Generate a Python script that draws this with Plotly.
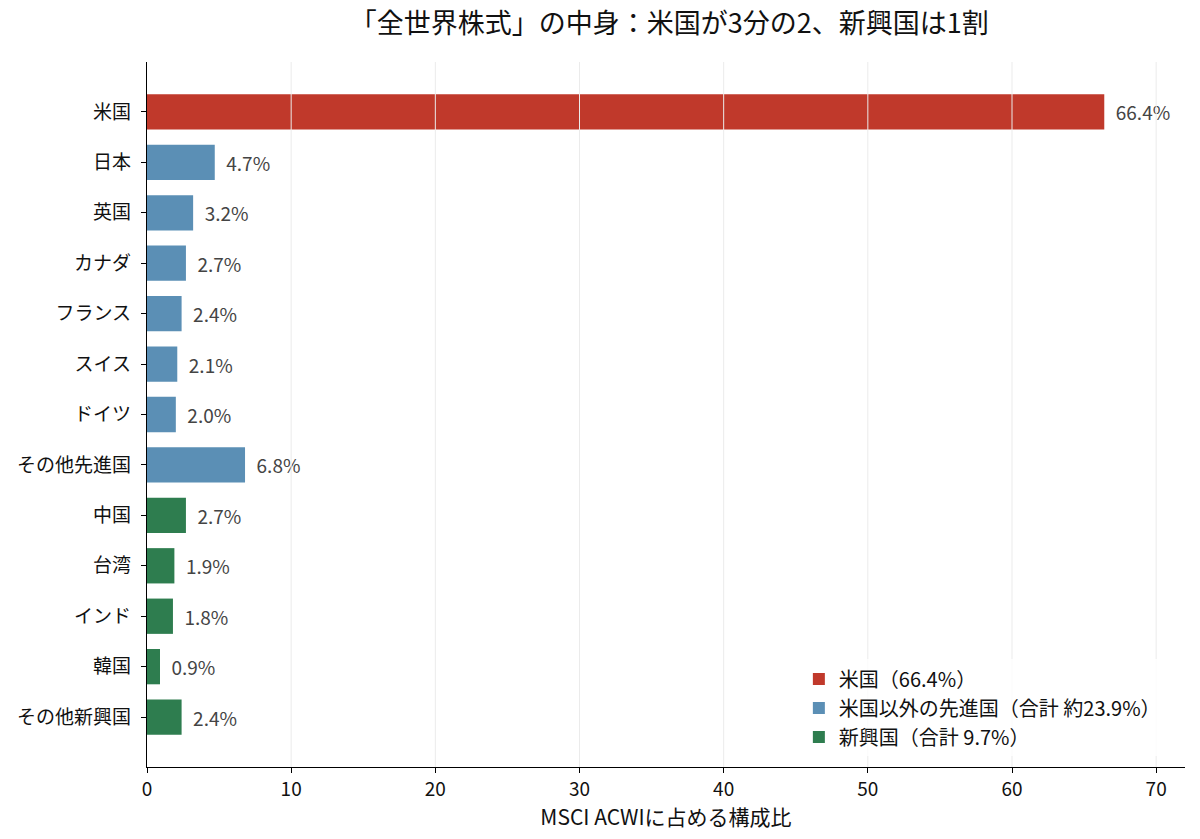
import plotly.graph_objects as go

FONT = "Noto Sans CJK JP"

countries = ["米国", "日本", "英国", "カナダ", "フランス", "スイス", "ドイツ",
             "その他先進国", "中国", "台湾", "インド", "韓国", "その他新興国"]

us_names = ["米国"]
us_values = [66.4]

dev_names = ["日本", "英国", "カナダ", "フランス", "スイス", "ドイツ", "その他先進国"]
dev_values = [4.7, 3.2, 2.7, 2.4, 2.1, 2.0, 6.8]

em_names = ["中国", "台湾", "インド", "韓国", "その他新興国"]
em_values = [2.7, 1.9, 1.8, 0.9, 2.4]

x_ticks = [0, 10, 20, 30, 40, 50, 60, 70]

groups = [
    ("米国（66.4%）", us_names, us_values, "#C0392B"),
    ("米国以外の先進国（合計 約23.9%）", dev_names, dev_values, "#5B8FB5"),
    ("新興国（合計 9.7%）", em_names, em_values, "#2E7D4F"),
]

fig = go.Figure()
for name, ys, xs, color in groups:
    fig.add_trace(go.Bar(
        x=xs, y=ys, orientation="h", name=name,
        marker=dict(color=color, line=dict(width=0)),
        width=0.7,
        text=[f"{v:.1f}%" for v in xs],
        texttemplate="  %{text}",
        textposition="outside",
        cliponaxis=False,
        textfont=dict(family=FONT, size=19, color="#444444"),
    ))

# vertical grid lines drawn on top of the bars, as in the original
for t in x_ticks[1:]:
    fig.add_shape(type="line", xref="x", yref="paper", x0=t, x1=t, y0=0, y1=1,
                  line=dict(color="#EBEBEB", width=1), layer="above")

fig.update_layout(
    width=1200, height=839,
    paper_bgcolor="white", plot_bgcolor="white",
    font=dict(family=FONT, size=19, color="#111111"),
    barmode="relative",
    margin=dict(l=139, r=23, t=54, b=80, autoexpand=False),
    title=dict(text="「全世界株式」の中身：米国が3分の2、新興国は1割",
               x=0.551, xanchor="center", y=1, yanchor="top",
               pad=dict(t=6),
               font=dict(family=FONT, size=27, color="#111111")),
    legend=dict(x=0.628, y=0.015, xanchor="left", yanchor="bottom",
                bgcolor="rgba(255,255,255,0.8)",
                font=dict(family=FONT, size=20, color="#111111")),
    showlegend=True,
)

fig.update_xaxes(
    range=[0, 72], tickvals=x_ticks,
    showgrid=False,
    showline=True, linecolor="black", linewidth=1.3,
    ticks="outside", ticklen=5, tickcolor="black",
    zeroline=False, layer="above traces",
    title=dict(text="MSCI ACWIに占める構成比", font=dict(family=FONT, size=21), standoff=2),
    tickfont=dict(family=FONT, size=19),
)

fig.update_yaxes(
    categoryorder="array", categoryarray=countries,
    range=[12.99, -0.99],
    showgrid=False,
    showline=True, linecolor="black", linewidth=1.3,
    ticks="outside", ticklen=5, tickcolor="black",
    ticklabelstandoff=6,
    tickfont=dict(family=FONT, size=19),
)

fig.write_html("out.html")
